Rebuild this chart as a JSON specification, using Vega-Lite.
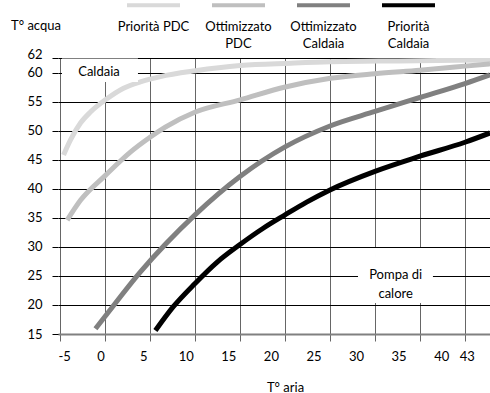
{
  "$schema": "https://vega.github.io/schema/vega-lite/v6.json",
  "width": 432,
  "height": 276,
  "autosize": "none",
  "padding": {"left": 58, "top": 58, "right": 0, "bottom": 59},
  "background": "white",
  "config": {
    "view": {"stroke": null},
    "font": "Lato",
    "axis": {"labelFont": "Lato", "titleFont": "Lato", "labelFontSize": 13, "titleFontSize": 13, "labelColor": "#000", "titleColor": "#000", "titleFontWeight": "normal"},
    "legend": {"labelFont": "Lato", "labelFontSize": 13, "labelColor": "#000"}
  },
  "resolve": {"axis": {"x": "independent", "y": "independent"}},
  "layer": [
    {
      "data": {"values": [
        {"s": "Priorità PDC", "t": -4.35, "w": 45.8},
        {"s": "Priorità PDC", "t": -3.53, "w": 48.4},
        {"s": "Priorità PDC", "t": -2.36, "w": 51.3},
        {"s": "Priorità PDC", "t": -1.19, "w": 53.2},
        {"s": "Priorità PDC", "t": 0.57, "w": 55.3},
        {"s": "Priorità PDC", "t": 2.7, "w": 57.3},
        {"s": "Priorità PDC", "t": 4.68, "w": 58.4},
        {"s": "Priorità PDC", "t": 7.02, "w": 59.3},
        {"s": "Priorità PDC", "t": 11.13, "w": 60.3},
        {"s": "Priorità PDC", "t": 16.4, "w": 61.2},
        {"s": "Priorità PDC", "t": 22.3, "w": 61.6},
        {"s": "Priorità PDC", "t": 27.0, "w": 61.85},
        {"s": "Priorità PDC", "t": 35.0, "w": 62.0},
        {"s": "Priorità PDC", "t": 45.73, "w": 62.15},
        {"s": "Ottimizzato PDC", "t": -3.92, "w": 34.6},
        {"s": "Ottimizzato PDC", "t": -2.36, "w": 38.0},
        {"s": "Ottimizzato PDC", "t": 0.57, "w": 42.3},
        {"s": "Ottimizzato PDC", "t": 3.5, "w": 46.3},
        {"s": "Ottimizzato PDC", "t": 5.85, "w": 48.9},
        {"s": "Ottimizzato PDC", "t": 7.6, "w": 50.6},
        {"s": "Ottimizzato PDC", "t": 11.13, "w": 53.2},
        {"s": "Ottimizzato PDC", "t": 16.4, "w": 55.3},
        {"s": "Ottimizzato PDC", "t": 21.7, "w": 57.5},
        {"s": "Ottimizzato PDC", "t": 27.0, "w": 59.0},
        {"s": "Ottimizzato PDC", "t": 32.2, "w": 59.8},
        {"s": "Ottimizzato PDC", "t": 37.5, "w": 60.4},
        {"s": "Ottimizzato PDC", "t": 42.8, "w": 61.1},
        {"s": "Ottimizzato PDC", "t": 45.73, "w": 61.5},
        {"s": "Ottimizzato Caldaia", "t": -0.6, "w": 15.9},
        {"s": "Ottimizzato Caldaia", "t": 0.52, "w": 18.0},
        {"s": "Ottimizzato Caldaia", "t": 4.63, "w": 25.6},
        {"s": "Ottimizzato Caldaia", "t": 11.09, "w": 35.5},
        {"s": "Ottimizzato Caldaia", "t": 16.37, "w": 42.1},
        {"s": "Ottimizzato Caldaia", "t": 21.66, "w": 47.2},
        {"s": "Ottimizzato Caldaia", "t": 26.94, "w": 50.8},
        {"s": "Ottimizzato Caldaia", "t": 32.22, "w": 53.3},
        {"s": "Ottimizzato Caldaia", "t": 37.5, "w": 55.7},
        {"s": "Ottimizzato Caldaia", "t": 42.79, "w": 58.1},
        {"s": "Ottimizzato Caldaia", "t": 45.73, "w": 59.6},
        {"s": "Priorità Caldaia", "t": 6.44, "w": 15.6},
        {"s": "Priorità Caldaia", "t": 8.54, "w": 19.7},
        {"s": "Priorità Caldaia", "t": 11.09, "w": 23.7},
        {"s": "Priorità Caldaia", "t": 13.63, "w": 27.3},
        {"s": "Priorità Caldaia", "t": 16.37, "w": 30.4},
        {"s": "Priorità Caldaia", "t": 19.1, "w": 33.2},
        {"s": "Priorità Caldaia", "t": 21.66, "w": 35.5},
        {"s": "Priorità Caldaia", "t": 24.2, "w": 37.7},
        {"s": "Priorità Caldaia", "t": 26.94, "w": 39.8},
        {"s": "Priorità Caldaia", "t": 32.22, "w": 43.0},
        {"s": "Priorità Caldaia", "t": 37.5, "w": 45.6},
        {"s": "Priorità Caldaia", "t": 42.79, "w": 48.0},
        {"s": "Priorità Caldaia", "t": 45.73, "w": 49.6}
      ]},
      "mark": {"type": "line", "strokeWidth": 5, "strokeCap": "butt", "interpolate": "monotone", "clip": true},
      "encoding": {
        "x": {
          "field": "t", "type": "quantitative",
          "scale": {"domain": [-5, 45.73], "nice": false, "zero": false},
          "axis": {
            "orient": "bottom",
            "values": [-4.765, 0.519, 5.803, 11.087, 16.371, 21.655, 26.939, 32.223, 37.507, 42.791],
            "labels": false, "title": null,
            "grid": true, "gridColor": "#666666", "gridWidth": 1, "gridOpacity": 1,
            "ticks": true, "tickSize": 7, "tickColor": "#666666", "tickWidth": 1,
            "domain": true, "domainColor": "#808080", "domainWidth": 2
          }
        },
        "y": {
          "field": "w", "type": "quantitative",
          "scale": {"domain": [15, 62.5], "nice": false, "zero": false},
          "axis": {
            "values": [15, 20, 25, 30, 35, 40, 45, 50, 55, 60, 62.5],
            "labelExpr": "datum.value > 61 ? '62' : datum.label",
            "labelBaseline": {"condition": {"test": "datum.value > 61", "value": "alphabetic"}, "value": "middle"},
            "grid": true, "gridColor": "#000000", "gridWidth": 1, "gridOpacity": 1,
            "ticks": true, "tickSize": 6, "tickColor": "#000000",
            "labelPadding": 10,
            "domain": false,
            "title": "T° acqua", "titleAngle": 0, "titleAlign": "center", "titleBaseline": "middle",
            "titleX": -22.5, "titleY": -33
          }
        },
        "color": {
          "field": "s", "type": "nominal",
          "scale": {"domain": ["Priorità PDC", "Ottimizzato PDC", "Ottimizzato Caldaia", "Priorità Caldaia"], "range": ["#d9d9d9", "#bfbfbf", "#808080", "#000000"]},
          "legend": {
            "orient": "none", "legendX": 59, "legendY": -74, "direction": "horizontal",
            "title": null, "padding": 0,
            "symbolType": "M-1,1M-0.768,-0.4406H0.768M1,1", "symbolSize": 4761, "symbolStrokeWidth": 4,
            "labelAlign": "center", "labelBaseline": "top", "labelOffset": -36.5, "labelLimit": 80,
            "columnPadding": 0,
            "labelExpr": "datum.label == 'Ottimizzato PDC' ? 'Ottimizzato\\nPDC' : datum.label == 'Ottimizzato Caldaia' ? 'Ottimizzato\\nCaldaia' : datum.label == 'Priorità Caldaia' ? 'Priorità\\nCaldaia' : datum.label",
            "encode": {"labels": {"update": {"lineHeight": {"value": 17}, "lineBreak": {"value": "\n"}}}}
          }
        }
      }
    },
    {
      "data": {"values": [
        {"x1": -4.53, "x2": 4.39, "y1": 62.4, "y2": 58.37},
        {"x1": 30.23, "x2": 39.03, "y1": 29.8, "y2": 20.34}
      ]},
      "mark": {"type": "rect", "fill": "white"},
      "encoding": {
        "x": {
          "field": "x1", "type": "quantitative",
          "axis": {
            "orient": "bottom",
            "values": [-5, 0, 5, 10, 15, 20, 25, 30, 35, 40, 43],
            "labelExpr": "datum.value < 0 ? '-' + abs(datum.value) : datum.label",
            "grid": false, "ticks": false, "domain": false,
            "labelPadding": 16,
            "title": "T° aria", "titleX": 227, "titleY": 53, "titleBaseline": "middle", "titleAlign": "center"
          }
        },
        "x2": {"field": "x2"},
        "y": {"field": "y1", "type": "quantitative", "axis": null},
        "y2": {"field": "y2"}
      }
    },
    {
      "data": {"values": [
        {"label": "Caldaia", "tx": -0.19, "ty": 60.09},
        {"label": "Pompa di\ncalore", "tx": 34.65, "ty": 25.24}
      ]},
      "mark": {"type": "text", "fontSize": 13, "lineBreak": "\n", "lineHeight": 19, "baseline": "middle", "align": "center", "color": "#000"},
      "encoding": {
        "x": {"field": "tx", "type": "quantitative", "axis": null},
        "y": {"field": "ty", "type": "quantitative", "axis": null},
        "text": {"field": "label"}
      }
    }
  ]
}
